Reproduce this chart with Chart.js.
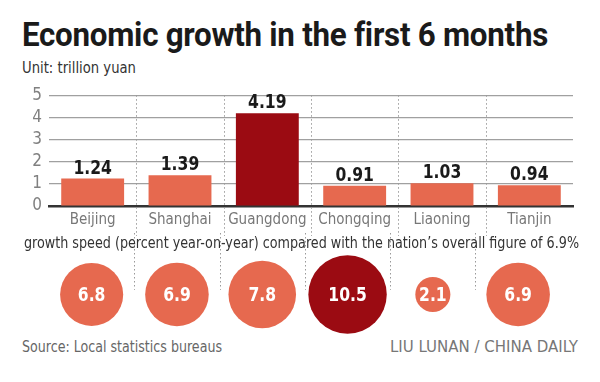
<!DOCTYPE html>
<html>
<head>
<meta charset="utf-8">
<script src="https://cdn.jsdelivr.net/npm/chart.js@4/dist/chart.umd.min.js"></script>
<style>
  html, body { margin: 0; padding: 0; background: #fff; }
  #wrap { position: relative; width: 600px; height: 382px; overflow: hidden; background: #fff;
          font-family: "DejaVu Sans", sans-serif; font-stretch: condensed; }
  .t { position: absolute; white-space: nowrap; transform-origin: 0 0; line-height: 1.2; }
  #title { left: 22px; top: 14px; font-family: Roboto, "DejaVu Sans", sans-serif; font-stretch: normal; font-weight: 700;
           font-size: 34px; color: #1a1a1a; letter-spacing: -0.3px; }
  #unit { left: 22px; top: 59px; font-size: 15px; color: #333; }
  #sub { left: 24px; top: 233px; font-size: 16px; color: #333; z-index: 3; }
  #src { left: 22px; top: 338px; font-size: 15px; color: #666; }
  #credit { left: 390px; top: 338px; font-size: 15px; color: #777; }
  #bar { position: absolute; left: 0; top: 78px; width: 600px; height: 158px; z-index: 2; }
  #bub { position: absolute; left: 0; top: 233px; width: 600px; height: 116px; z-index: 1; }
</style>
</head>
<body>
<div id="wrap">
  <div class="t" id="title">Economic growth in the first 6 months</div>
  <div class="t" id="unit">Unit: trillion yuan</div>
  <div class="t" id="sub">growth speed (percent year-on-year) compared with the nation’s overall figure of 6.9%</div>
  <div class="t" id="src">Source: Local statistics bureaus</div>
  <div class="t" id="credit">LIU LUNAN / CHINA DAILY</div>
  <canvas id="bar" width="600" height="158"></canvas>
  <canvas id="bub" width="600" height="116"></canvas>
</div>
<script>
// ---- data ----
const regions = ["Beijing", "Shanghai", "Guangdong", "Chongqing", "Liaoning", "Tianjin"];
const gdp = [1.24, 1.39, 4.19, 0.91, 1.03, 0.94];          // trillion yuan
const growth = [6.8, 6.9, 7.8, 10.5, 2.1, 6.9];           // percent year-on-year
const yTicks = [0, 1, 2, 3, 4, 5];

// ---- style ----
const ORANGE = "#E6694F";
const DARK = "#9B0B12";
const FAMILY = '"DejaVu Sans", sans-serif';

// fit text widths to the reference layout
function fitWidth(id, target) {
  const el = document.getElementById(id);
  const w = el.getBoundingClientRect().width;
  el.style.transform = "scaleX(" + (target / w) + ")";
}
fitWidth("title", 526);
fitWidth("unit", 114);
fitWidth("sub", 555);
fitWidth("src", 200);
fitWidth("credit", 188);

const maxIdx = (arr) => arr.indexOf(Math.max(...arr));
const gdpMax = maxIdx(gdp), growthMax = maxIdx(growth);

// dotted separators between categories
const sepPlugin = {
  id: "sep",
  beforeDatasetsDraw(chart, args, opts) {
    const x = chart.scales.x, ctx = chart.ctx;
    const y0 = opts.fromTop ? 0 : chart.chartArea.top;
    const y1 = opts.toBottom ? chart.height : chart.chartArea.bottom + (opts.extend || 0);
    ctx.save();
    ctx.strokeStyle = "#999";
    ctx.lineWidth = 1;
    ctx.setLineDash([1.5, 2.5]);
    for (let i = 1; i < regions.length; i++) {
      const px = Math.round((x.getPixelForValue(i - 1) + x.getPixelForValue(i)) / 2) + 0.5;
      ctx.beginPath(); ctx.moveTo(px, y0); ctx.lineTo(px, y1); ctx.stroke();
    }
    ctx.restore();
  }
};

function squeezedText(ctx, text, x, y, sx) {
  ctx.save();
  ctx.translate(x, y);
  ctx.scale(sx, 1);
  ctx.fillText(text, 0, 0);
  ctx.restore();
}

const barLabelPlugin = {
  id: "barLabels",
  afterDatasetsDraw(chart) {
    const ctx = chart.ctx;
    const meta = chart.getDatasetMeta(0);
    ctx.save();
    ctx.font = "bold 20px " + FAMILY;
    ctx.fillStyle = "#1a1a1a";
    ctx.textAlign = "center";
    ctx.textBaseline = "alphabetic";
    meta.data.forEach((el, i) => {
      squeezedText(ctx, gdp[i].toFixed(2), el.x, el.y - 5, 0.78);
    });
    ctx.restore();
  }
};

const bubLabelPlugin = {
  id: "bubLabels",
  afterDatasetsDraw(chart) {
    const ctx = chart.ctx;
    const meta = chart.getDatasetMeta(0);
    ctx.save();
    ctx.font = "bold 20px " + FAMILY;
    ctx.fillStyle = "#ffffff";
    ctx.textAlign = "center";
    ctx.textBaseline = "middle";
    meta.data.forEach((el, i) => {
      squeezedText(ctx, String(growth[i]), el.x, el.y + 1, 0.78);
    });
    ctx.restore();
  }
};

new Chart(document.getElementById("bar"), {
  type: "bar",
  data: {
    labels: regions,
    datasets: [{
      data: gdp,
      backgroundColor: gdp.map((v, i) => i === gdpMax ? DARK : ORANGE),
      barPercentage: 0.72,
      categoryPercentage: 1.0,
      borderWidth: 0
    }]
  },
  options: {
    responsive: false,
    animation: false,
    devicePixelRatio: 1,
    layout: { padding: { top: 10, right: 27, left: 0, bottom: 0 } },
    plugins: { legend: { display: false }, tooltip: { enabled: false }, sep: { toBottom: true } },
    scales: {
      x: {
        grid: { display: false, drawTicks: false },
        border: { display: true, color: "#333", width: 2.5 },
        ticks: { color: "#777", font: { family: FAMILY, size: 15, weight: "condensed normal" }, padding: 5, autoSkip: false, maxRotation: 0 },
        afterFit(s) { s.height = 30; }
      },
      y: {
        min: 0, max: 5,
        afterBuildTicks(s) { s.ticks = yTicks.map(v => ({ value: v })); },
        grid: { color: (c) => c.tick && c.tick.value === 0 ? "rgba(0,0,0,0)" : "#a0a0a0", lineWidth: 1.2, drawTicks: false },
        border: { display: false },
        ticks: { color: "#808080", font: { family: FAMILY, size: 17, weight: "condensed normal" }, padding: 7, autoSkip: false },
        afterFit(s) { s.width = 49; }
      }
    }
  },
  plugins: [sepPlugin, barLabelPlugin]
});

new Chart(document.getElementById("bub"), {
  type: "bubble",
  data: {
    labels: regions,
    datasets: [{
      data: growth.map((v, i) => ({ x: regions[i], y: 0, r: 12.1 * Math.sqrt(v) })),
      backgroundColor: growth.map((v, i) => i === growthMax ? DARK : ORANGE),
      borderWidth: 0,
      hoverRadius: 0,
      clip: false
    }]
  },
  options: {
    responsive: false,
    animation: false,
    devicePixelRatio: 1,
    layout: { padding: { top: 0, right: 27, left: 49, bottom: 0 } },
    plugins: { legend: { display: false }, tooltip: { enabled: false }, sep: { fromTop: true, extend: -20 } },
    scales: {
      x: { type: "category", offset: true, display: false },
      y: { min: -1, max: 1.45, display: false }
    }
  },
  plugins: [sepPlugin, bubLabelPlugin]
});
</script>
</body>
</html>
